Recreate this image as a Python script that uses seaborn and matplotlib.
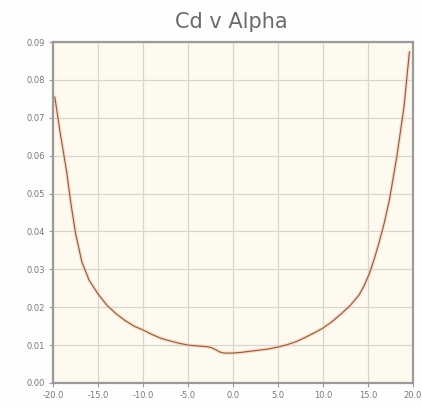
import matplotlib
matplotlib.use("Agg")
import matplotlib.pyplot as plt
import seaborn as sns
import pandas as pd
from matplotlib.ticker import FormatStrFormatter, MultipleLocator

# Drag coefficient against angle of attack
alpha = [-19.8, -19.2, -18.5, -18.0, -17.5, -16.8, -16.0, -15.0, -14.0, -13.0,
         -12.0, -11.0, -10.0, -9.0, -8.0, -7.0, -6.0, -5.0, -4.0, -3.0,
         -2.5, -2.0, -1.5, -1.0, 0.0, 1.0, 2.0, 3.0, 4.0, 5.0,
         6.0, 7.0, 8.0, 9.0, 10.0, 11.0, 12.0, 13.0, 14.0, 14.6,
         15.2, 15.7, 16.2, 16.8, 17.4, 18.2, 19.0, 19.6]
cd = [0.0755, 0.0660, 0.0560, 0.0472, 0.0396, 0.0320, 0.0272, 0.0235, 0.0205, 0.0183,
      0.0165, 0.0150, 0.0140, 0.0128, 0.0118, 0.0111, 0.0105, 0.0100, 0.0098, 0.0096,
      0.0094, 0.0089, 0.0082, 0.0079, 0.0079, 0.0081, 0.0084, 0.0087, 0.0090, 0.0095,
      0.0101, 0.0109, 0.0120, 0.0132, 0.0145, 0.0162, 0.0182, 0.0204, 0.0232, 0.0258,
      0.0292, 0.0328, 0.0368, 0.0422, 0.0486, 0.0597, 0.0729, 0.0874]

title = "Cd v Alpha"

sns.set_theme(style="whitegrid")
plt.rcParams["font.family"] = ["DejaVu Sans"]

df = pd.DataFrame({"alpha": alpha, "cd": cd})

fig = plt.figure(figsize=(4.22, 4.07), dpi=100)
fig.patch.set_facecolor("#fefefc")
ax = fig.add_axes([0.1256, 0.0590, 0.8531, 0.8378])
ax.set_facecolor("#fffaf0")

# soft halo under the curve
sns.lineplot(data=df, x="alpha", y="cd", sort=False, ax=ax,
             color="#f5c6a4", linewidth=2.6, alpha=0.55)
sns.lineplot(data=df, x="alpha", y="cd", sort=False, ax=ax,
             color="#8c5a48", linewidth=0.8)

ax.set_xlim(-20, 20)
ax.set_ylim(0, 0.09)
ax.xaxis.set_major_locator(MultipleLocator(5))
ax.yaxis.set_major_locator(MultipleLocator(0.01))
ax.xaxis.set_major_formatter(FormatStrFormatter("%.1f"))
ax.yaxis.set_major_formatter(FormatStrFormatter("%.2f"))

ax.grid(True, color="#d9d6d0", linewidth=0.9)
for s in ax.spines.values():
    s.set_visible(True)
    s.set_color("#9a9a9a")
    s.set_linewidth(1.6)

ax.tick_params(axis="both", which="major", length=3, width=0.8, color="#9a9a9a",
               labelsize=6, labelcolor="#777777", pad=3, direction="out",
               bottom=True, left=True)
ax.set_xlabel("")
ax.set_ylabel("")

fig.text(0.5475, 0.945, title, ha="center", va="center",
         fontsize=15, color="#6a6a6a")

fig.savefig("out.png", dpi=100)
